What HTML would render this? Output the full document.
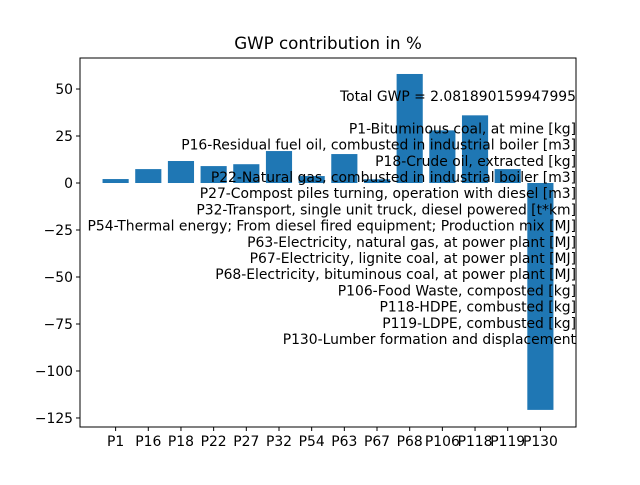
<!DOCTYPE html>
<html><head><meta charset="utf-8"><style>
body{margin:0;background:#fff}
svg{font-family:"DejaVu Sans","Liberation Sans",sans-serif}
</style></head><body>
<svg id="chart" width="640" height="480">
<rect width="640" height="480" fill="#fff"/>
<text x="328" y="49" font-size="16.7" text-anchor="middle">GWP contribution in %</text>
<g id="bars"></g>
<g id="yaxis"></g>
<g id="xaxis"></g>
<rect x="80" y="58" width="496" height="369" fill="none" stroke="#000" stroke-width="1"/>
<g id="legendtext" font-size="13.9" text-anchor="end"></g>
</svg>
<script>
const categories=["P1","P16","P18","P22","P27","P32","P54","P63","P67","P68","P106","P118","P119","P130"];
const values=[2.1,7.4,11.7,9,10,17,3.7,15.4,2,58,28,36,7.4,-120.7];
const yTicks=[50,25,0,-25,-50,-75,-100,-125];
const yTickLabels=["50","25","0","\u221225","\u221250","\u221275","\u2212100","\u2212125"];
const annotLines=["Total GWP = 2.081890159947995","","P1-Bituminous coal, at mine [kg]","P16-Residual fuel oil, combusted in industrial boiler [m3]","P18-Crude oil, extracted [kg]","P22-Natural gas, combusted in industrial boiler [m3]","P27-Compost piles turning, operation with diesel [m3]","P32-Transport, single unit truck, diesel powered [t*km]","P54-Thermal energy; From diesel fired equipment; Production mix [MJ]","P63-Electricity, natural gas, at power plant [MJ]","P67-Electricity, lignite coal, at power plant [MJ]","P68-Electricity, bituminous coal, at power plant [MJ]","P106-Food Waste, composted [kg]","P118-HDPE, combusted [kg]","P119-LDPE, combusted [kg]","P130-Lumber formation and displacement"];
const NS="http://www.w3.org/2000/svg";
const L=80,R=576,T=58,B=427,ymin=-129.8,ymax=66.5;
const y=v=>T+(ymax-v)/(ymax-ymin)*(B-T);
const n=categories.length;
const span=(n-1+0.8)*1.1;
const step=(R-L)/span;
const x=i=>L+(0.4+0.05*(n-1+0.8)+i)*step;
const bw=step*0.8;
function mk(t,a,p){const e=document.createElementNS(NS,t);for(const k in a)e.setAttribute(k,a[k]);p.appendChild(e);return e;}
const bars=document.getElementById('bars'),xa=document.getElementById('xaxis'),ya=document.getElementById('yaxis');
values.forEach((v,i)=>{
 const r=mk('rect',{x:x(i)-bw/2,y:Math.min(y(v),y(0)),width:bw,height:Math.abs(y(v)-y(0)),fill:'#1f77b4'},bars);
 
 
 const tk=mk('line',{x1:x(i),x2:x(i),y1:B,y2:B+4,stroke:'#000'},xa);
 
 
 const t=mk('text',{x:x(i),y:B+19,'font-size':'13.9','text-anchor':'middle'},xa);
 t.textContent=categories[i];
 
 
});
yTicks.forEach((v,i)=>{
 const tk=mk('line',{x1:L-4,x2:L,y1:y(v),y2:y(v),stroke:'#000'},ya);
 
 
 const t=mk('text',{x:L-7,y:y(v)+5,'font-size':'13.9','text-anchor':'end'},ya);
 t.textContent=yTickLabels[i];
 
 
});
const lg=document.getElementById('legendtext');
annotLines.forEach((s,i)=>{
 const t=mk('text',{x:576,y:101+i*16.2},lg);
 t.textContent=s;
 
 
});
</script>
</body></html>
